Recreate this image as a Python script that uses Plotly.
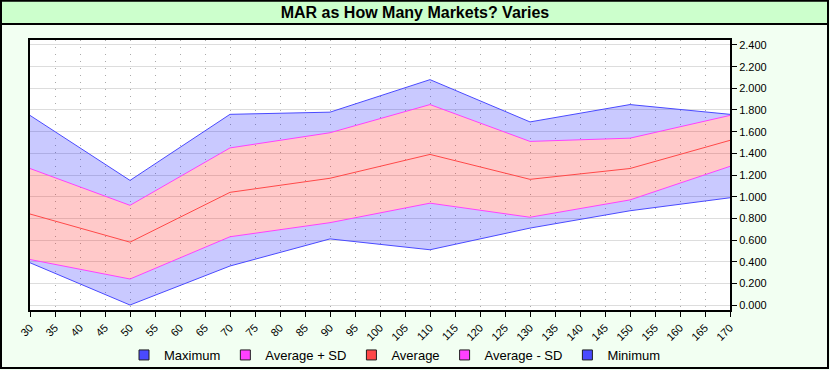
import plotly.graph_objects as go

x_vals = [30, 50, 70, 90, 110, 130, 150, 170]
maximum = [1.75, 1.15, 1.76, 1.78, 2.08, 1.69, 1.85, 1.76]
avg_plus_sd = [1.26, 0.92, 1.45, 1.59, 1.85, 1.51, 1.54, 1.75]
average = [0.84, 0.58, 1.04, 1.17, 1.39, 1.16, 1.26, 1.52]
avg_minus_sd = [0.42, 0.24, 0.63, 0.76, 0.94, 0.81, 0.97, 1.28]
minimum = [0.39, 0.00, 0.36, 0.61, 0.51, 0.71, 0.87, 0.99]

title_text = "MAR as How Many Markets? Varies"
legend_names = ["Maximum", "Average + SD", "Average", "Average - SD", "Minimum"]

BLUE = "#4A4AFF"
MAGENTA = "#FF40FF"
RED = "#FF4848"
BLUE_FILL = "rgba(0,0,255,0.21)"
PINK_FILL = "rgba(255,0,0,0.21)"
FONT = "Liberation Sans, Arial, sans-serif"

fig = go.Figure()

# Band traces (drawn bottom to top so tonexty fills don't overlap)
fig.add_trace(go.Scatter(x=x_vals, y=minimum, mode="lines",
                         line=dict(color=BLUE, width=1), showlegend=False, hoverinfo="skip"))
fig.add_trace(go.Scatter(x=x_vals, y=avg_minus_sd, mode="lines", fill="tonexty", fillcolor=BLUE_FILL,
                         line=dict(color=MAGENTA, width=1), showlegend=False, hoverinfo="skip"))
fig.add_trace(go.Scatter(x=x_vals, y=average, mode="lines", fill="tonexty", fillcolor=PINK_FILL,
                         line=dict(color=RED, width=1), showlegend=False, hoverinfo="skip"))
fig.add_trace(go.Scatter(x=x_vals, y=avg_plus_sd, mode="lines", fill="tonexty", fillcolor=PINK_FILL,
                         line=dict(color=MAGENTA, width=1), showlegend=False, hoverinfo="skip"))
fig.add_trace(go.Scatter(x=x_vals, y=maximum, mode="lines", fill="tonexty", fillcolor=BLUE_FILL,
                         line=dict(color=BLUE, width=1), showlegend=False, hoverinfo="skip"))

# Legend entries (square swatches)
for name, col in zip(legend_names, [BLUE, MAGENTA, RED, MAGENTA, BLUE]):
    fig.add_trace(go.Scatter(x=[None], y=[None], mode="markers", name=name,
                             marker=dict(symbol="square", size=10, color=col,
                                         line=dict(color="#202020", width=1))))

W, H = 830, 370
L, R, T, B = 30, 100, 40, 60
pw, ph = W - L - R, H - T - B


def px(xp):
    return (xp - L) / pw


def py(yp):
    return (H - B - yp) / ph


shapes = [
    dict(type="rect", xref="paper", yref="paper", x0=px(1), x1=px(828), y0=py(24), y1=py(0.5),
         fillcolor="#CCFFCC", line=dict(color="black", width=2), layer="below"),
    dict(type="rect", xref="paper", yref="paper", x0=px(1), x1=px(828), y0=py(368), y1=py(0.5),
         fillcolor="rgba(0,0,0,0)", line=dict(color="black", width=2), layer="above"),
]

fig.update_layout(
    width=W, height=H,
    margin=dict(l=L, r=R, t=T, b=B, autoexpand=False),
    paper_bgcolor="#F2FFF2",
    plot_bgcolor="white",
    font=dict(family=FONT, size=11, color="black"),
    title=dict(text="<b>" + title_text + "</b>", x=0.5, xanchor="center", xref="container",
               y=1 - 12.5 / H, yanchor="middle", yref="container",
               font=dict(family=FONT, size=16, color="black")),
    shapes=shapes,
    showlegend=True,
    legend=dict(orientation="h", x=px(395), xanchor="center", y=py(355), yanchor="middle",
                bgcolor="rgba(0,0,0,0)", font=dict(family=FONT, size=13, color="black"),
                traceorder="normal"),
    hovermode=False,
)

fig.update_xaxes(
    range=[30, 170], dtick=5, tick0=30, automargin=False,
    showgrid=True, gridcolor="#AAAAAA", gridwidth=1, griddash="1px,6px",
    showline=True, linecolor="black", linewidth=2, mirror=True,
    ticks="outside", ticklen=5, tickcolor="black", tickwidth=1,
    tickangle=-45, zeroline=False,
    tickfont=dict(family=FONT, size=11, color="black"),
)
fig.update_yaxes(
    range=[-0.046, 2.446], dtick=0.2, tick0=0, tickformat=".3f", side="right", automargin=False,
    showgrid=True, gridcolor="#DDDDDD", gridwidth=1,
    showline=True, linecolor="black", linewidth=2, mirror=True,
    ticks="outside", ticklen=5, tickcolor="black", tickwidth=1,
    zeroline=False,
    tickfont=dict(family=FONT, size=11, color="black"),
)

fig.write_html(
    "out.html",
    config={"displayModeBar": False},
    post_script="document.body.style.margin='0';document.body.style.padding='0';"
                "document.documentElement.style.overflow='hidden';",
)
